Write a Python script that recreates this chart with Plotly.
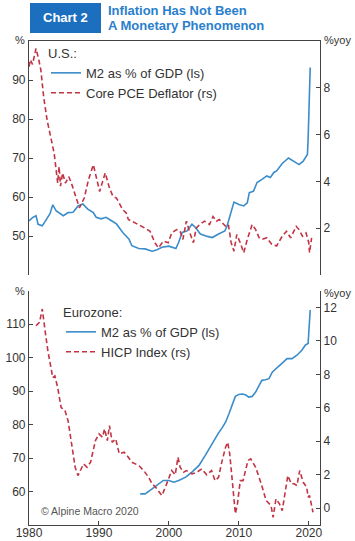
import plotly.graph_objects as go

# ---------------- data ----------------
us_m2_year = [1980.0, 1980.5, 1981.0, 1981.3, 1981.9, 1982.4, 1983.0, 1983.4, 1983.9, 1984.9,
              1985.6, 1986.3, 1987.0, 1987.7, 1988.4, 1989.2, 1989.6, 1990.3, 1991.0, 1991.8,
              1992.5, 1993.4, 1994.3, 1994.7, 1995.7, 1996.6, 1997.6, 1998.3, 1999.0, 2000.0,
              2001.0, 2001.4, 2001.9, 2002.6, 2003.3, 2003.8, 2004.5, 2005.5, 2006.2, 2007.1,
              2008.0, 2008.3, 2008.7, 2009.3, 2010.0, 2010.7, 2011.2, 2011.5, 2012.1, 2012.6,
              2013.3, 2014.0, 2014.5, 2015.0, 2015.4, 2016.2, 2017.1, 2017.8, 2018.6, 2019.2,
              2019.8, 2019.9, 2020.0, 2020.2]
us_m2 = [53.9, 54.7, 55.2, 53.0, 52.6, 54.0, 55.7, 58.0, 56.4, 55.2,
         56.0, 56.1, 57.7, 58.2, 56.9, 56.0, 54.8, 54.4, 54.8, 53.9,
         53.1, 50.9, 49.2, 47.5, 46.8, 46.7, 46.1, 46.5, 47.1, 47.4,
         46.8, 48.4, 50.9, 51.3, 53.0, 52.2, 50.5, 49.9, 49.6, 50.5,
         51.3, 52.5, 55.1, 58.7, 58.1, 57.7, 58.5, 61.1, 61.5, 63.7,
         64.5, 65.4, 65.0, 66.3, 66.7, 68.6, 70.0, 69.2, 68.3, 69.2,
         70.9, 74.7, 83.3, 93.2]

us_pce_year = [1980.0, 1980.2, 1980.5, 1981.0, 1981.4, 1981.7, 1982.1, 1982.6, 1983.1, 1983.6,
               1984.1, 1984.3, 1984.5, 1984.8, 1985.2, 1985.7, 1986.2, 1986.7, 1987.2, 1987.9,
               1988.5, 1989.2, 1989.6, 1990.1, 1990.6, 1990.9, 1991.5, 1992.0, 1992.5, 1993.0,
               1993.4, 1993.9, 1994.2, 1994.7, 1995.7, 1996.6, 1997.3, 1998.0, 1998.5, 1999.2,
               1999.9, 2000.4, 2001.1, 2001.6, 2002.0, 2002.5, 2003.0, 2003.5, 2003.9, 2004.4,
               2005.1, 2005.8, 2006.3, 2006.8, 2007.2, 2007.9, 2008.1, 2008.5, 2008.9, 2009.3,
               2009.7, 2010.2, 2010.7, 2011.2, 2011.9, 2012.4, 2012.9, 2013.3, 2014.0, 2014.7,
               2015.4, 2016.2, 2016.8, 2017.4, 2018.2, 2018.6, 2019.1, 2019.6, 2020.0, 2020.1,
               2020.4]
us_pce = [8.9, 9.2, 9.0, 9.68, 9.2, 8.75, 7.6, 6.6, 5.9, 5.2,
          3.93, 4.64, 3.8, 4.36, 3.93, 4.2, 3.8, 3.36, 2.87, 3.29,
          4.07, 4.71, 4.2, 3.57, 4.07, 4.36, 3.72, 3.36, 3.29, 3.0,
          2.79, 2.65, 2.37, 2.3, 2.16, 2.0, 1.87, 1.38, 1.16, 1.45,
          1.38, 1.8, 1.94, 1.87, 1.52, 2.3, 1.8, 1.38, 2.0, 2.16,
          2.3, 2.16, 2.5, 2.3, 2.37, 2.16, 2.08, 2.16, 1.38, 1.02,
          1.73, 1.38, 0.95, 1.52, 2.16, 1.94, 1.59, 1.52, 1.59, 1.31,
          1.24, 1.66, 1.87, 1.59, 2.08, 1.94, 1.66, 1.8, 1.38, 0.95,
          1.59]

ez_m2_year = [1995.9, 1996.6, 1997.6, 1998.5, 1999.2, 2000.0, 2000.7, 2001.4, 2002.4, 2003.3,
              2004.3, 2005.2, 2006.2, 2007.1, 2007.6, 2008.1, 2008.6, 2009.1, 2009.5, 2010.0,
              2010.5, 2011.0, 2011.4, 2011.9, 2012.4, 2012.9, 2013.3, 2013.8, 2014.3, 2014.8,
              2015.5, 2016.2, 2016.9, 2017.6, 2018.3, 2019.0, 2019.5, 2019.9, 2020.1, 2020.2]
ez_m2 = [59.3, 59.3, 60.8, 62.3, 63.3, 63.3, 62.8, 63.3, 64.3, 65.8,
         67.8, 70.8, 74.5, 77.5, 79.0, 80.7, 83.3, 86.3, 88.4, 89.0,
         89.1, 88.8, 88.2, 88.4, 89.7, 91.7, 93.2, 93.4, 93.7, 95.7,
         97.0, 98.2, 99.7, 99.7, 100.7, 102.2, 103.7, 104.2, 109.2, 114.2]

ez_hicp_year = [1981.0, 1981.5, 1981.9, 1982.2, 1982.3, 1982.7, 1983.2, 1983.4, 1983.7, 1984.1,
                1984.6, 1985.1, 1985.6, 1986.1, 1986.6, 1987.0, 1987.3, 1987.8, 1988.3, 1988.8,
                1989.5, 1990.0, 1990.5, 1990.8, 1991.2, 1991.5, 1991.9, 1992.4, 1992.9, 1993.6,
                1994.2, 1994.7, 1995.7, 1996.4, 1997.1, 1997.6, 1998.1, 1998.5, 1999.0, 1999.5,
                2000.0, 2000.4, 2000.9, 2001.3, 2001.6, 2002.1, 2002.5, 2003.3, 2004.0, 2004.7,
                2005.4, 2006.1, 2006.6, 2007.1, 2007.5, 2008.1, 2008.4, 2008.7, 2009.1, 2009.5,
                2009.8, 2010.2, 2010.6, 2011.3, 2011.7, 2012.4, 2013.2, 2013.9, 2014.6, 2014.9,
                2015.3, 2015.8, 2016.2, 2016.6, 2017.0, 2017.5, 2017.9, 2018.3, 2018.7, 2019.2,
                2019.7, 2019.9, 2020.1, 2020.6]
ez_hicp = [10.9, 11.1, 11.9, 10.8, 10.6, 9.4, 8.4, 7.8, 7.9, 7.2,
           6.0, 5.9, 5.2, 3.85, 2.45, 1.95, 2.25, 2.65, 2.45, 2.75,
           4.04, 4.44, 4.24, 4.74, 4.04, 4.94, 3.94, 4.14, 3.25, 3.35,
           3.05, 2.75, 2.55, 2.25, 1.85, 1.46, 1.26, 1.06, 0.76, 1.26,
           1.75, 2.25, 2.0, 3.05, 2.45, 2.15, 2.25, 2.05, 2.15, 2.35,
           2.0, 2.25, 1.65, 1.85, 2.65, 3.64, 3.94, 3.24, 1.46, -0.33,
           0.26, 1.65, 1.65, 2.85, 2.95, 2.45, 1.46, 0.46, 0.16, -0.54,
           0.56, 0.26, -0.14, 0.86, 1.95, 1.46, 1.46, 1.36, 2.25, 1.55,
           1.26, 0.66, 0.76, -0.24]

x_ticks = [1980, 1990, 2000, 2010, 2020]
us_left_ticks = [50, 60, 70, 80, 90]
us_right_ticks = [2, 4, 6, 8]
ez_left_ticks = [60, 70, 80, 90, 100, 110]
ez_right_ticks = [0, 2, 4, 6, 8, 10, 12]

# ---------------- styling ----------------
W, H = 355, 541
BLUE = "#3a8cca"
RED = "#c23444"
AXIS = "#444444"
TXT = "#333333"
FONT = "Liberation Sans"

def px(x):
    return x / W

def py(y):
    return 1 - y / H

XD = [px(29), px(320)]
TOP_D = [py(275), py(41)]
BOT_D = [py(525), py(290.6)]
XR = [1980, 2021.6]

fig = go.Figure()

fig.add_trace(go.Scatter(x=us_m2_year, y=us_m2, mode="lines", name="M2 as % of GDP (ls)",
                         line=dict(color=BLUE, width=1.6), xaxis="x", yaxis="y", legend="legend"))
fig.add_trace(go.Scatter(x=us_pce_year, y=us_pce, mode="lines", name="Core PCE Deflator (rs)",
                         line=dict(color=RED, width=1.6, dash="5px,3px"), xaxis="x", yaxis="y2",
                         legend="legend"))
fig.add_trace(go.Scatter(x=ez_m2_year, y=ez_m2, mode="lines", name="M2 as % of GDP (ls)",
                         line=dict(color=BLUE, width=1.6), xaxis="x2", yaxis="y3", legend="legend2"))
fig.add_trace(go.Scatter(x=ez_hicp_year, y=ez_hicp, mode="lines", name="HICP Index (rs)",
                         line=dict(color=RED, width=1.6, dash="5px,3px"), xaxis="x2", yaxis="y4",
                         legend="legend2"))

tickfont = dict(family=FONT, size=12, color=TXT)
common_y = dict(showgrid=False, zeroline=False, showline=True, linecolor=AXIS, linewidth=1.2,
                ticks="inside", ticklen=4, tickcolor=AXIS, tickfont=tickfont, automargin=False)

fig.update_layout(
    template="none",
    width=W, height=H,
    margin=dict(l=0, r=0, t=0, b=0),
    paper_bgcolor="white", plot_bgcolor="white",
    font=dict(family=FONT, color=TXT),
    xaxis=dict(domain=XD, anchor="y", range=XR, side="top", showline=True, linecolor=AXIS,
               linewidth=1.2, showticklabels=False, ticks="", showgrid=False, zeroline=False,
               automargin=False),
    yaxis=dict(domain=TOP_D, anchor="x", range=[40, 100], tickvals=us_left_ticks, **common_y),
    yaxis2=dict(overlaying="y", anchor="x", side="right", range=[0, 10], tickvals=us_right_ticks,
                **common_y),
    xaxis2=dict(domain=XD, anchor="y3", range=XR, tickvals=x_ticks, showline=True, linecolor=AXIS,
                linewidth=1.2, ticks="inside", ticklen=4, tickcolor=AXIS, tickfont=tickfont,
                ticklabelstandoff=-4, showgrid=False, zeroline=False, automargin=False),
    yaxis3=dict(domain=BOT_D, anchor="x2", range=[50, 120], tickvals=ez_left_ticks, **common_y),
    yaxis4=dict(overlaying="y3", anchor="x2", side="right", range=[-1, 13], tickvals=ez_right_ticks,
                **common_y),
    legend=dict(x=px(46), y=py(41), xanchor="left", yanchor="top", bgcolor="rgba(0,0,0,0)",
                title=dict(text="U.S.:", font=dict(family=FONT, size=13, color=TXT)),
                font=dict(family=FONT, size=13, color=TXT), tracegroupgap=0, itemwidth=30),
    legend2=dict(x=px(61), y=py(300), xanchor="left", yanchor="top", bgcolor="rgba(0,0,0,0)",
                 title=dict(text="Eurozone:", font=dict(family=FONT, size=13, color=TXT)),
                 font=dict(family=FONT, size=13, color=TXT), tracegroupgap=0, itemwidth=30),
    showlegend=True,
)

# title block
fig.add_shape(type="rect", xref="paper", yref="paper", x0=px(30), x1=px(101), y0=py(33), y1=py(3),
              fillcolor="#1c6fbf", line=dict(width=0))
fig.add_annotation(text="<b>Chart 2</b>", xref="paper", yref="paper", x=px(65.5), y=py(18),
                   showarrow=False, font=dict(family=FONT, size=13, color="white"),
                   xanchor="center", yanchor="middle")
fig.add_annotation(text="<b>Inflation Has Not Been</b>", xref="paper", yref="paper", x=px(106),
                   y=py(10), showarrow=False, font=dict(family=FONT, size=13, color="#2a80cc"),
                   xanchor="left", yanchor="middle")
fig.add_annotation(text="<b>A Monetary Phenomenon</b>", xref="paper", yref="paper", x=px(106),
                   y=py(26), showarrow=False, font=dict(family=FONT, size=13, color="#2a80cc"),
                   xanchor="left", yanchor="middle")

# unit labels
for txt, x, y, anc in [("%", 20, 40, "center"), ("%yoy", 322, 40, "left"),
                       ("%", 20, 291, "center"), ("%yoy", 322, 293, "left")]:
    fig.add_annotation(text=txt, xref="paper", yref="paper", x=px(x), y=py(y), showarrow=False,
                       font=dict(family=FONT, size=11, color=TXT), xanchor=anc, yanchor="middle")

fig.add_annotation(text="© Alpine Macro 2020", xref="paper", yref="paper", x=px(39), y=py(511),
                   showarrow=False, font=dict(family=FONT, size=10.5, color="#555555"),
                   xanchor="left", yanchor="middle")

fig.write_html("out.html", config={"displayModeBar": False},
               post_script="document.body.style.margin='0';document.body.style.overflow='hidden';")
